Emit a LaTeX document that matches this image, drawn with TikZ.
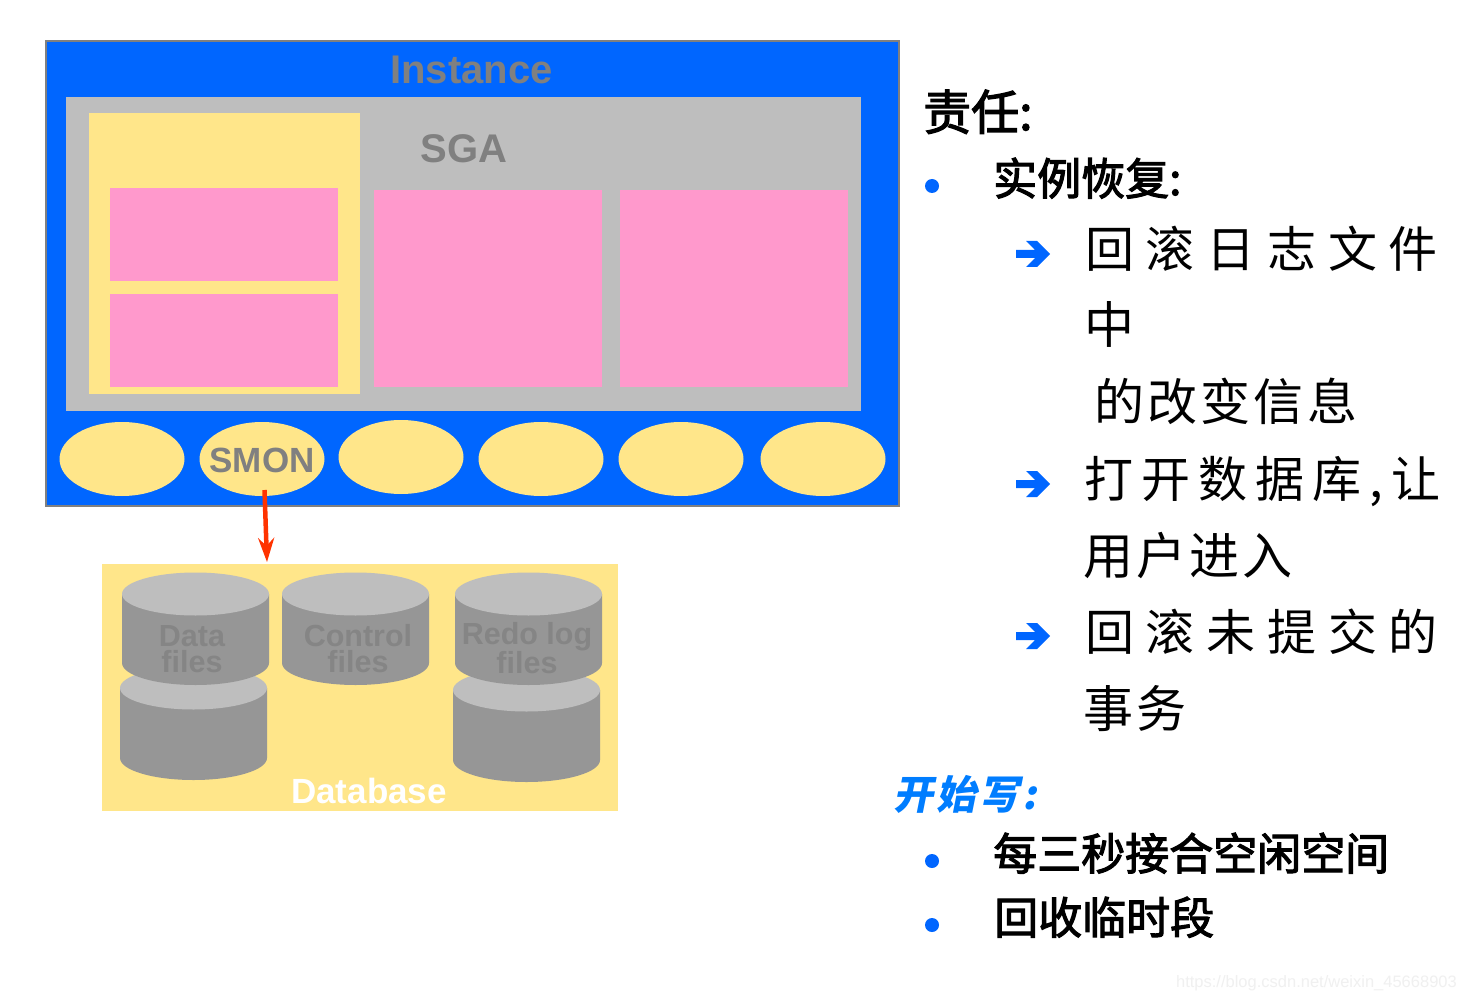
\documentclass[tikz,border=0pt]{standalone}
\usepackage{fontspec}
\setmainfont{Liberation Sans}
\newfontfamily\cjk{Noto Sans CJK SC}
\newfontfamily\cjkm{Noto Sans CJK SC}[FakeBold=2.5]
\newfontfamily\cjkw{Noto Sans CJK SC}[LetterSpace=24]
\newfontfamily\cjkc{Noto Sans CJK SC}[LetterSpace=16.5]
\newfontfamily\cjkn{Noto Sans CJK SC}[LetterSpace=6.5]
\newfontfamily\cjkh{Noto Sans CJK SC}[FakeSlant=0.2,LetterSpace=8]
\definecolor{blu}{HTML}{0066FF}
\definecolor{sgagray}{HTML}{BEBEBE}
\definecolor{yel}{HTML}{FFE68A}
\definecolor{pnk}{HTML}{FF99CC}
\definecolor{txtg}{HTML}{808080}
\definecolor{cylside}{HTML}{969696}
\definecolor{cyltop}{HTML}{BEBEBE}
\definecolor{cyltxt}{HTML}{858585}
\definecolor{redarrow}{HTML}{FF3300}
\tikzset{
  x=1pt,y=-1pt,
  lab/.style={inner sep=0pt,font=\bfseries\fontsize{40}{40}\selectfont,text=txtg},
  cyllab/.style={inner sep=0pt,align=center,font=\bfseries\fontsize{30.5}{26}\selectfont,text=cyltxt},
  pinkbox/.style={fill=pnk,draw=none},
  oval/.style={ellipse,fill=yel,draw=none,minimum width=125pt,minimum height=74pt,inner sep=0pt},
  title/.style={anchor=base west,inner sep=0pt,font=\cjkm\fontsize{48}{48}\selectfont},
  head/.style={anchor=base west,inner sep=0pt,font=\cjkm\fontsize{44}{44}\selectfont},
  wide/.style={anchor=base west,inner sep=0pt,font=\cjkw\fontsize{49}{49}\selectfont},
  widec/.style={anchor=base west,inner sep=0pt,font=\cjkc\fontsize{49}{49}\selectfont},
  narrow/.style={anchor=base west,inner sep=0pt,font=\cjkn\fontsize{50}{50}\selectfont},
  bul/.style={circle,fill=blu,minimum size=14pt,inner sep=0pt,draw=none},
}
\usetikzlibrary{shapes.geometric,arrows.meta}
\newcommand{\cylshape}[4]{% left, top, right, bottom
  \fill[cylside] (#1,{#2+22}) -- (#1,{#4-22}) arc[start angle=180,end angle=0,x radius={(#3-#1)/2},y radius=22] -- (#3,{#2+22}) -- cycle;
  \fill[cyltop] ({(#1+#3)/2},{#2+22}) ellipse[x radius={(#3-#1)/2},y radius=21.5];
}
\newcommand{\arrowmark}[2]{% x, y centre
  \fill[blu] ({#1-17},{#2-4}) -- ({#1+2},{#2-4}) -- ({#1-7},{#2-13}) -- ({#1+4},{#2-13}) -- ({#1+17},{#2}) -- ({#1+4},{#2+13}) -- ({#1-7},{#2+13}) -- ({#1+2},{#2+4}) -- ({#1-17},{#2+4}) -- cycle;
}
\begin{document}
\begin{tikzpicture}
\useasboundingbox (0,0) rectangle (1466,1000);
\fill[white] (0,0) rectangle (1466,1000);
% Instance
\draw[fill=blu,draw=txtg,line width=2pt] (45.5,41.5) rectangle (899,505.5);
\node[lab] (instance) at (471.5,70) {Instance};
\fill[sgagray] (66,97) rectangle (861,411);
\node[lab] (sga) at (464,149) {SGA};
\fill[yel] (88.5,113) rectangle (360,394);
\fill[pinkbox] (110,188) rectangle (338,281);
\fill[pinkbox] (110,294) rectangle (338,387);
\fill[pinkbox] (374,190) rectangle (602,387);
\fill[pinkbox] (620,190) rectangle (848,387);
% ovals
\node[oval] (o1) at (122,459) {};
\node[oval] (smon) at (262,459) {};
\node[inner sep=0pt,font=\bfseries\fontsize{35}{35}\selectfont,text=txtg] (smonlabel) at (262,460) {SMON};
\node[oval] (o3) at (401,457) {};
\node[oval] (o4) at (541,459) {};
\node[oval] (o5) at (681,459) {};
\node[oval] (o6) at (823,459) {};
% Database
\fill[yel] (102,564) rectangle (617.5,811);
\cylshape{120}{666}{267}{780}
\cylshape{122}{572}{269}{685}
\cylshape{282}{572}{429}{685}
\cylshape{453}{668}{600}{782}
\cylshape{455}{572}{602}{685}
\node[cyllab] (data) at (192,649) {Data\\files};
\node[cyllab] (control) at (358,649) {Control\\files};
\node[cyllab] (redo) at (527,648) {Redo log\\files};
\node[inner sep=0pt,text=white,font=\bfseries\fontsize{35}{35}\selectfont] (database) at (369,791) {Database};
\coordinate (dbtop) at (267,562);
\coordinate (smonout) at (264.5,490);
\draw[redarrow,line width=4.5pt,-{Stealth[length=24pt,width=16pt,inset=8pt]}] (smonout) -- (dbtop);
% Right text
\node[title] (t0) at (923,130) {责任:};
\node[bul] (b1) at (932,186) {};
\node[head] (t1) at (993,195) {实例恢复:};
\arrowmark{1033}{254}
\node[wide] (t2) at (1085,267) {回滚日志文件};
\node[narrow] (t3) at (1084,343) {中};
\node[narrow] (t4) at (1094,420) {的改变信息};
\arrowmark{1033}{484}
\node[widec] (t5) at (1084,497) {打开数据库,让};
\node[narrow] (t6) at (1083,574) {用户进入};
\arrowmark{1033}{636}
\node[wide] (t7) at (1085,650) {回滚未提交的};
\node[narrow] (t8) at (1083,727) {事务};
\node[anchor=base west,inner sep=0pt,text=blu!85!cyan,font=\cjkh\bfseries\fontsize{40}{40}\selectfont] (t9) at (893,809) {开始写:};
\node[bul] (b2) at (932,861) {};
\node[head] (t10) at (993,870) {每三秒接合空闲空间};
\node[bul] (b3) at (932,925) {};
\node[head] (t11) at (994,934) {回收临时段};
\node[anchor=base east,inner sep=0pt,text=black!6,font=\fontsize{16.5}{16.5}\selectfont] (wm) at (1457,987) {https://blog.csdn.net/weixin\_45668903};
\end{tikzpicture}
\end{document}
